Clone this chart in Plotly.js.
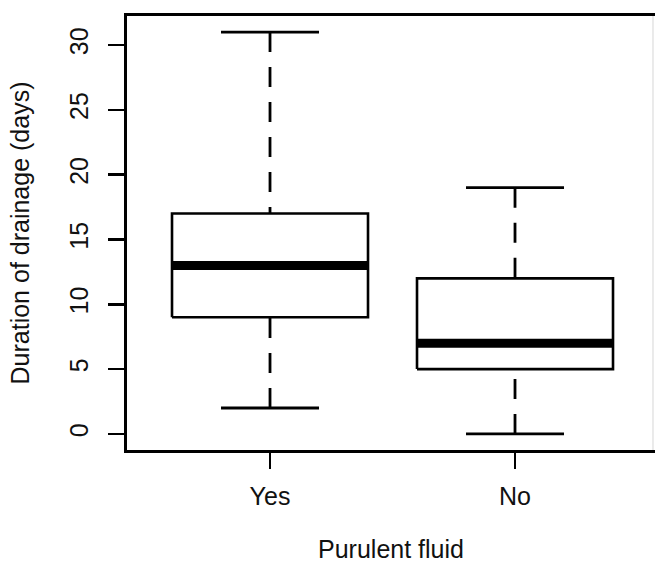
<!DOCTYPE html>
<html>
<head>
<meta charset="utf-8">
<script src="https://cdn.plot.ly/plotly-3.0.1.min.js"></script>
<style>
  html, body { margin: 0; padding: 0; background: #fff; }
  #chart { width: 655px; height: 568px; }
</style>
</head>
<body>
<div id="chart"></div>
<script>
// Duration of drainage (days) by purulent fluid status: five-number summaries
const groups   = ["Yes", "No"];
const minimum  = [2, 0];
const q1       = [9, 5];
const median   = [13, 7];
const q3       = [17, 12];
const maximum  = [31, 19];

const yTicks = [0, 5, 10, 15, 20, 25, 30];

const boxHalf = 0.4;   // half box width (axis units)
const capHalf = 0.2;   // half whisker-cap width

const traces = [];
groups.forEach((g, i) => {
  const c = i + 1;
  // box outline
  traces.push({
    type: "scatter", mode: "lines", hoverinfo: "skip", showlegend: false,
    x: [c - boxHalf, c + boxHalf, c + boxHalf, c - boxHalf, c - boxHalf],
    y: [q1[i], q1[i], q3[i], q3[i], q1[i]],
    line: { color: "#000", width: 2.6 }
  });
  // dashed whiskers, drawn from the extremes toward the box
  traces.push({
    type: "scatter", mode: "lines", hoverinfo: "skip", showlegend: false,
    x: [c, c, null, c, c],
    y: [maximum[i], q3[i], null, minimum[i], q1[i]],
    line: { color: "#000", width: 2.8, dash: "20px,15px" }
  });
  // whisker caps
  traces.push({
    type: "scatter", mode: "lines", hoverinfo: "skip", showlegend: false,
    x: [c - capHalf, c + capHalf, null, c - capHalf, c + capHalf],
    y: [maximum[i], maximum[i], null, minimum[i], minimum[i]],
    line: { color: "#000", width: 2.8 }
  });
  // median bar
  traces.push({
    type: "scatter", mode: "lines", hoverinfo: "skip", showlegend: false,
    x: [c - boxHalf, c + boxHalf],
    y: [median[i], median[i]],
    line: { color: "#000", width: 9 }
  });
});

const font = { family: "Liberation Sans, Arial, sans-serif", size: 25, color: "#111" };

const layout = {
  width: 655, height: 568,
  margin: { l: 127, r: 0, t: 16, b: 118 },
  paper_bgcolor: "#fff", plot_bgcolor: "#fff",
  font: font,
  showlegend: false,
  xaxis: {
    range: [0.4163, 2.5714],
    tickmode: "array", tickvals: [1, 2], ticktext: groups,
    ticks: "outside", ticklen: 16, tickwidth: 2.6, tickcolor: "#000",
    ticklabelstandoff: 6,
    showgrid: false, zeroline: false,
    showline: true, mirror: true, linecolor: "#000", linewidth: 2.6,
    title: { text: "Purulent fluid", font: font, standoff: 32 }
  },
  yaxis: {
    range: [-1.24, 32.24],
    tickmode: "array", tickvals: yTicks, ticktext: yTicks.map(String),
    tickangle: -90,
    ticks: "outside", ticklen: 16, tickwidth: 2.6, tickcolor: "#000",
    ticklabelstandoff: 10,
    showgrid: false, zeroline: false,
    showline: true, mirror: false, linecolor: "#000", linewidth: 2.6,
    title: { text: "Duration of drainage (days)", font: font, standoff: 29 }
  },
  shapes: [{
    type: "line", xref: "paper", yref: "paper",
    x0: 0.9962, x1: 0.9962, y0: 0, y1: 1,
    line: { color: "#e4e4e4", width: 1.5 }
  }]
};

Plotly.newPlot("chart", traces, layout, { displayModeBar: false, staticPlot: true });
</script>
</body>
</html>
